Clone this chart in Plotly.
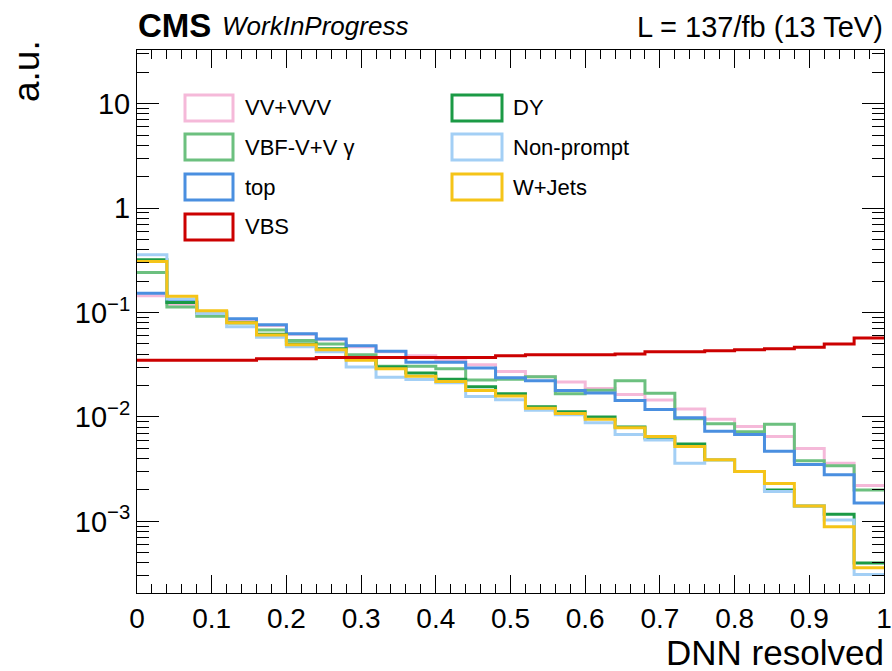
import numpy as np
import plotly.graph_objects as go

# ---------------- data ----------------
bin_edges = np.linspace(0.0, 1.0, 26)

series_names = ["VV+VVV", "VBF-V+V γ", "top", "VBS", "DY", "Non-prompt", "W+Jets"]

vv_vvv = [0.145, 0.120, 0.097, 0.085, 0.075, 0.062, 0.055, 0.047, 0.042, 0.0386,
          0.035, 0.0316, 0.0273, 0.0243, 0.0216, 0.0187, 0.0164, 0.0145, 0.0119,
          0.0095, 0.0081, 0.0065, 0.0050, 0.0036, 0.0022]
vbf_vgamma = [0.242, 0.113, 0.092, 0.080, 0.068, 0.054, 0.050, 0.0395, 0.0305, 0.0305,
              0.029, 0.0226, 0.023, 0.0243, 0.0167, 0.018, 0.0222, 0.0169, 0.0096,
              0.0086, 0.0072, 0.0085, 0.0038, 0.0034, 0.0020]
top = [0.153, 0.128, 0.102, 0.087, 0.0765, 0.0625, 0.0557, 0.048, 0.0425, 0.0334,
       0.0334, 0.0294, 0.0237, 0.0222, 0.0179, 0.0170, 0.0144, 0.0118, 0.0098,
       0.0073, 0.0068, 0.0047, 0.0035, 0.0028, 0.0015]
vbs = [0.0350, 0.0350, 0.0350, 0.0350, 0.0360, 0.0360, 0.0370, 0.0370, 0.0370, 0.0370,
       0.0370, 0.0370, 0.0385, 0.0395, 0.0395, 0.0395, 0.0400, 0.0420, 0.0420,
       0.0430, 0.0440, 0.0450, 0.0465, 0.0500, 0.0570]
dy = [0.320, 0.125, 0.100, 0.080, 0.062, 0.050, 0.045, 0.036, 0.030, 0.0263,
      0.023, 0.0195, 0.0167, 0.0125, 0.0112, 0.0100, 0.0080, 0.0063, 0.0055,
      0.0039, 0.0030, 0.0020, 0.0014, 0.00117, 0.00040]
non_prompt = [0.357, 0.135, 0.098, 0.073, 0.058, 0.047, 0.042, 0.030, 0.024, 0.0228,
              0.0212, 0.0157, 0.0146, 0.0116, 0.0105, 0.0088, 0.0068, 0.0060, 0.0036,
              0.0039, 0.0030, 0.00193, 0.0014, 0.00103, 0.00031]
w_jets = [0.308, 0.143, 0.104, 0.080, 0.061, 0.049, 0.044, 0.035, 0.029, 0.0245,
          0.0219, 0.0179, 0.0159, 0.0121, 0.0108, 0.0095, 0.0079, 0.0065, 0.0052,
          0.0039, 0.0030, 0.0023, 0.0014, 0.00089, 0.00036]

series_values = [vv_vvv, vbf_vgamma, top, vbs, dy, non_prompt, w_jets]
series_colors = ["#f5b9d9", "#6cc07f", "#4a8fe0", "#cc0000", "#1b9a45", "#a3cff5", "#f5c418"]
draw_order = [0, 1, 2, 4, 5, 6, 3]

x_tickvals = [0, 0.1, 0.2, 0.3, 0.4, 0.5, 0.6, 0.7, 0.8, 0.9, 1.0]
x_ticktext = ["0", "0.1", "0.2", "0.3", "0.4", "0.5", "0.6", "0.7", "0.8", "0.9", "1"]
y_tickvals = [1e-3, 1e-2, 1e-1, 1, 10]
y_ticktext = ["10<sup>−3</sup>", "10<sup>−2</sup>", "10<sup>−1</sup>", "1", "10"]

# ---------------- layout geometry (pixels) ----------------
W, H = 892, 671
L, R, T, B = 137, 884, 50, 593
FONT = "Liberation Sans, Arial, Helvetica, sans-serif"


def px_x(px):
    return (px - L) / (R - L)


def px_y(py):
    return (B - py) / (B - T)


fig = go.Figure()

for i in draw_order:
    vals = list(series_values[i])
    xs = list(bin_edges[:-1]) + [bin_edges[-1]]
    ys = vals + [vals[-1]]
    fig.add_trace(go.Scatter(
        x=xs, y=ys, mode="lines", line=dict(color=series_colors[i], width=3, shape="hv"),
        name=series_names[i], showlegend=False, hoverinfo="skip"))

# ---------------- manual legend (ROOT style boxes) ----------------
shapes = []
annotations = []
col_box_x = [(185, 233), (452, 502)]
col_text_x = [243, 511]
row_y = [108, 147, 187, 227]
box_h = 26
legend_cols = [[0, 1, 2, 3], [4, 5, 6]]
for c, idxs in enumerate(legend_cols):
    for r, i in enumerate(idxs):
        yc = row_y[r]
        shapes.append(dict(type="rect", xref="paper", yref="paper",
                           x0=px_x(col_box_x[c][0]), x1=px_x(col_box_x[c][1]),
                           y0=px_y(yc + box_h / 2), y1=px_y(yc - box_h / 2),
                           line=dict(color=series_colors[i], width=3),
                           fillcolor="rgba(0,0,0,0)", layer="above"))
        annotations.append(dict(text=series_names[i], xref="paper", yref="paper",
                                x=px_x(col_text_x[c]), y=px_y(yc), xanchor="left",
                                yanchor="middle", showarrow=False,
                                font=dict(family=FONT, size=22, color="black")))

# ---------------- header / titles ----------------
annotations += [
    dict(text="<b>CMS</b>", xref="paper", yref="paper", x=px_x(136), y=px_y(25),
         xanchor="left", yanchor="middle", showarrow=False,
         font=dict(family=FONT, size=33, color="black")),
    dict(text="<i>WorkInProgress</i>", xref="paper", yref="paper", x=px_x(220), y=px_y(26),
         xanchor="left", yanchor="middle", showarrow=False,
         font=dict(family=FONT, size=26, color="black")),
    dict(text="L = 137/fb (13 TeV)", xref="paper", yref="paper", x=px_x(885), y=px_y(27),
         xanchor="right", yanchor="middle", showarrow=False,
         font=dict(family=FONT, size=29, color="black")),
    dict(text="DNN resolved", xref="paper", yref="paper", x=px_x(886), y=px_y(652),
         xanchor="right", yanchor="middle", showarrow=False,
         font=dict(family=FONT, size=35, color="black")),
    dict(text="a.u.", xref="paper", yref="paper", x=px_x(26), y=px_y(38),
         xanchor="center", yanchor="top", textangle=-90, showarrow=False,
         font=dict(family=FONT, size=37, color="black")),
]

fig.update_layout(
    width=W, height=H,
    margin=dict(l=L, r=W - R, t=T, b=H - B, pad=0),
    paper_bgcolor="white", plot_bgcolor="white",
    showlegend=False,
    shapes=shapes, annotations=annotations,
    font=dict(family=FONT, color="black"),
)

fig.update_xaxes(
    range=[0, 1], showgrid=False, zeroline=False,
    showline=True, linecolor="black", linewidth=1, mirror="ticks",
    ticks="inside", ticklen=18, tickwidth=1, tickcolor="black",
    tickmode="array", tickvals=x_tickvals, ticktext=x_ticktext,
    ticklabeloverflow="allow", automargin=False,
    tickfont=dict(family=FONT, size=28, color="black"),
    minor=dict(ticks="inside", ticklen=9, dtick=0.02, tick0=0, tickcolor="black", showgrid=False),
)
fig.update_yaxes(
    type="log", range=[-3.686, 1.514], showgrid=False, zeroline=False,
    showline=True, linecolor="black", linewidth=1, mirror="ticks",
    ticks="inside", ticklen=22, tickwidth=1, tickcolor="black",
    tickmode="array", tickvals=y_tickvals, ticktext=y_ticktext,
    automargin=False,
    tickfont=dict(family=FONT, size=29, color="black"),
    minor=dict(ticks="inside", ticklen=12, dtick="D1", tickcolor="black", showgrid=False),
)

fig.write_html("out.html")
